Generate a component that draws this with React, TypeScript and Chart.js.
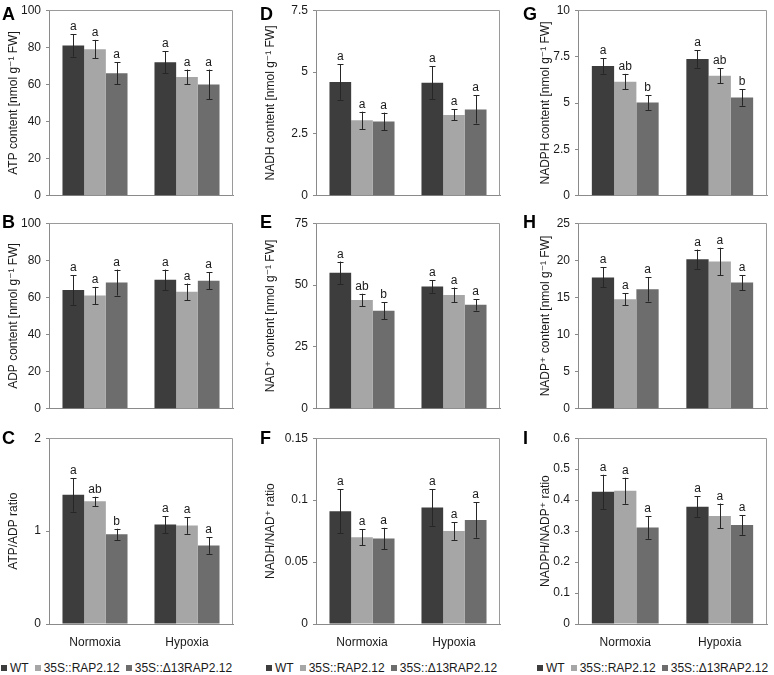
import React, { useEffect, useRef } from "react";
import { Chart, registerables } from "chart.js";

Chart.register(...registerables);

const FONT = "Arial, 'Liberation Sans', 'DejaVu Sans', sans-serif";
Chart.defaults.font.family = FONT;

// ---------- DATA ----------
const categories = ["Normoxia", "Hypoxia"];
const seriesNames = ["WT", "35S::RAP2.12", "35S::Δ13RAP2.12"];

// values per series: [Normoxia, Hypoxia]
const atpMeans = [[81, 72], [79, 64], [66, 60]];
const atpErrors = [[6, 6], [5, 4], [6, 8]];
const atpLetters = [["a", "a"], ["a", "a"], ["a", "a"]];

const adpMeans = [[64, 69.5], [61, 63], [68, 69]];
const adpErrors = [[8, 5.5], [4.7, 4.5], [7, 4.5]];
const adpLetters = [["a", "a"], ["a", "a"], ["a", "a"]];

const atpAdpMeans = [[1.39, 1.07], [1.32, 1.06], [0.965, 0.845]];
const atpAdpErrors = [[0.18, 0.09], [0.05, 0.09], [0.06, 0.09]];
const atpAdpLetters = [["a", "a"], ["ab", "a"], ["b", "a"]];

const nadhMeans = [[4.6, 4.57], [3.05, 3.27], [3.0, 3.49]];
const nadhErrors = [[0.72, 0.67], [0.35, 0.22], [0.36, 0.57]];
const nadhLetters = [["a", "a"], ["a", "a"], ["a", "a"]];

const nadMeans = [[55, 49.4], [44, 46], [39.6, 42]];
const nadErrors = [[4.5, 2.5], [2.5, 3], [3.4, 2.3]];
const nadLetters = [["a", "a"], ["ab", "a"], ["b", "a"]];

const nadhNadMeans = [[0.091, 0.094], [0.07, 0.075], [0.069, 0.084]];
const nadhNadErrors = [[0.0177, 0.0147], [0.0063, 0.0071], [0.0086, 0.0143]];
const nadhNadLetters = [["a", "a"], ["a", "a"], ["a", "a"]];

const nadphMeans = [[7.0, 7.37], [6.15, 6.47], [5.03, 5.3]];
const nadphErrors = [[0.42, 0.47], [0.42, 0.4], [0.4, 0.45]];
const nadphLetters = [["a", "a"], ["ab", "ab"], ["b", "b"]];

const nadpMeans = [[17.7, 20.15], [14.75, 19.85], [16.1, 17.0]];
const nadpErrors = [[1.34, 1.3], [0.8, 1.85], [1.65, 1.0]];
const nadpLetters = [["a", "a"], ["a", "a"], ["a", "a"]];

const nadphNadpMeans = [[0.427, 0.379], [0.43, 0.349], [0.312, 0.32]];
const nadphNadpErrors = [[0.055, 0.033], [0.042, 0.04], [0.037, 0.032]];
const nadphNadpLetters = [["a", "a"], ["a", "a"], ["a", "a"]];

// axis ranges [max, step]
const atpAxis = [100, 20];
const adpAxis = [100, 20];
const atpAdpAxis = [2, 1];
const nadhAxis = [7.5, 2.5];
const nadAxis = [75, 25];
const nadhNadAxis = [0.15, 0.05];
const nadphAxis = [10, 2.5];
const nadpAxis = [25, 5];
const nadphNadpAxis = [0.6, 0.1];

// ---------- STYLE / LAYOUT ----------
const seriesColors = ["#3d3d3d", "#a6a6a6", "#6d6d6d"];
const colCanvasLeft = [2, 259, 534];
const colPlotLeft = [49, 316, 578];
const colPlotRight = [233, 500, 767];
const colLetterX = [2, 260, 523];
const colLegendX = [1, 266, 537];
const rowPlotTop = [7, 220, 435];
const rowPlotBottom = [199, 412, 624];
const rowLetterCapTop = [7, 215, 431];

type PanelDef = {
  letter: string;
  title: string;
  means: number[][];
  errors: number[][];
  letters: string[][];
  axis: number[];
  col: number;
  row: number;
};

const panels: PanelDef[] = [
  { letter: "A", title: "ATP content [nmol g⁻¹ FW]", means: atpMeans, errors: atpErrors, letters: atpLetters, axis: atpAxis, col: 0, row: 0 },
  { letter: "B", title: "ADP content [nmol g⁻¹ FW]", means: adpMeans, errors: adpErrors, letters: adpLetters, axis: adpAxis, col: 0, row: 1 },
  { letter: "C", title: "ATP/ADP ratio", means: atpAdpMeans, errors: atpAdpErrors, letters: atpAdpLetters, axis: atpAdpAxis, col: 0, row: 2 },
  { letter: "D", title: "NADH content [nmol g⁻¹ FW]", means: nadhMeans, errors: nadhErrors, letters: nadhLetters, axis: nadhAxis, col: 1, row: 0 },
  { letter: "E", title: "NAD⁺ content [nmol g⁻¹ FW]", means: nadMeans, errors: nadErrors, letters: nadLetters, axis: nadAxis, col: 1, row: 1 },
  { letter: "F", title: "NADH/NAD⁺ ratio", means: nadhNadMeans, errors: nadhNadErrors, letters: nadhNadLetters, axis: nadhNadAxis, col: 1, row: 2 },
  { letter: "G", title: "NADPH content [nmol g⁻¹ FW]", means: nadphMeans, errors: nadphErrors, letters: nadphLetters, axis: nadphAxis, col: 2, row: 0 },
  { letter: "H", title: "NADP⁺ content [nmol g⁻¹ FW]", means: nadpMeans, errors: nadpErrors, letters: nadpLetters, axis: nadpAxis, col: 2, row: 1 },
  { letter: "I", title: "NADPH/NADP⁺ ratio", means: nadphNadpMeans, errors: nadphNadpErrors, letters: nadphNadpLetters, axis: nadphNadpAxis, col: 2, row: 2 },
];

const PAD_TOP = 9;
const PAD_RIGHT = 6;

function Panel({ p }: { p: PanelDef }) {
  const ref = useRef<HTMLCanvasElement | null>(null);
  const isBottom = p.row === 2;
  const bottomH = isBottom ? 26 : 9;
  const left = colCanvasLeft[p.col];
  const top = rowPlotTop[p.row] - PAD_TOP;
  const width = colPlotRight[p.col] + PAD_RIGHT - left;
  const height = rowPlotBottom[p.row] + bottomH - top;
  const yAxisW = colPlotLeft[p.col] - left;

  useEffect(() => {
    if (!ref.current) return;
    const overlay = {
      id: "errbars" + p.letter,
      afterDatasetsDraw(chart: any) {
        const { ctx, chartArea } = chart;
        const y = chart.scales.y;
        ctx.save();
        // frame (top & right)
        ctx.strokeStyle = "#9a9a9a";
        ctx.lineWidth = 1;
        ctx.beginPath();
        ctx.moveTo(chartArea.left, Math.round(chartArea.top) + 0.5);
        ctx.lineTo(Math.round(chartArea.right) - 0.5, Math.round(chartArea.top) + 0.5);
        ctx.lineTo(Math.round(chartArea.right) - 0.5, chartArea.bottom);
        ctx.stroke();
        chart.data.datasets.forEach((_ds: any, i: number) => {
          const meta = chart.getDatasetMeta(i);
          meta.data.forEach((bar: any, j: number) => {
            const v = p.means[i][j];
            const e = p.errors[i][j];
            const yt = y.getPixelForValue(v + e);
            const yb = y.getPixelForValue(v - e);
            const x = Math.round(bar.x) + 0.5;
            ctx.strokeStyle = "#262626";
            ctx.lineWidth = 1;
            ctx.beginPath();
            ctx.moveTo(x, yt);
            ctx.lineTo(x, yb);
            ctx.moveTo(x - 3, Math.round(yt) + 0.5);
            ctx.lineTo(x + 3, Math.round(yt) + 0.5);
            ctx.moveTo(x - 3, Math.round(yb) + 0.5);
            ctx.lineTo(x + 3, Math.round(yb) + 0.5);
            ctx.stroke();
            ctx.fillStyle = "#1a1a1a";
            ctx.font = "12px " + FONT;
            ctx.textAlign = "center";
            ctx.textBaseline = "alphabetic";
            ctx.fillText(p.letters[i][j], bar.x, yt - 4);
          });
        });
        ctx.restore();
      },
    };

    const chart = new Chart(ref.current, {
      type: "bar",
      data: {
        labels: categories,
        datasets: seriesNames.map((name, i) => ({
          label: name,
          data: p.means[i],
          backgroundColor: seriesColors[i],
          borderWidth: 0,
          categoryPercentage: 0.707,
          barPercentage: 1,
        })),
      },
      options: {
        responsive: false,
        animation: false,
        events: [],
        layout: { padding: { top: PAD_TOP, right: PAD_RIGHT, left: 0, bottom: 0 } },
        plugins: {
          legend: { display: false },
          tooltip: { enabled: false },
        },
        scales: {
          x: {
            grid: { display: false },
            border: { display: true, color: "#8a8a8a", width: 1 },
            ticks: {
              display: isBottom,
              color: "#1a1a1a",
              font: { size: 12 },
              padding: 3,
              maxRotation: 0,
            },
            afterFit: (s: any) => {
              s.height = bottomH;
            },
          },
          y: {
            min: 0,
            max: p.axis[0],
            grid: { display: true, drawOnChartArea: false, drawTicks: true, tickLength: 3, color: "#8a8a8a" },
            border: { display: true, color: "#8a8a8a", width: 1 },
            ticks: {
              stepSize: p.axis[1],
              color: "#1a1a1a",
              font: { size: 12 },
              padding: 5,
              callback: (v: any) => String(Number(Number(v).toFixed(6))),
            },
            title: {
              display: true,
              text: p.title,
              color: "#1a1a1a",
              font: { size: 12 },
              padding: { top: 4, bottom: 0 },
            },
            afterFit: (s: any) => {
              s.width = yAxisW;
            },
          },
        },
      },
      plugins: [overlay],
    } as any);
    return () => chart.destroy();
  }, []);

  return (
    <>
      <div style={{ position: "absolute", left, top, width, height }}>
        <canvas ref={ref} width={width} height={height} style={{ width, height, display: "block" }} />
      </div>
      <div
        style={{
          position: "absolute",
          left: colLetterX[p.col],
          top: rowLetterCapTop[p.row] - 2.4,
          font: `bold 18px ${FONT}`,
          lineHeight: "18px",
          color: "#000",
        }}
      >
        {p.letter}
      </div>
    </>
  );
}

function Legend({ x }: { x: number }) {
  return (
    <div
      style={{
        position: "absolute",
        left: x,
        top: 661,
        display: "flex",
        alignItems: "center",
        whiteSpace: "nowrap",
        font: `12px ${FONT}`,
        lineHeight: "14px",
        color: "#1a1a1a",
      }}
    >
      {seriesNames.map((n, i) => (
        <span key={n} style={{ display: "flex", alignItems: "center", marginRight: 6 }}>
          <span style={{ display: "inline-block", width: 6, height: 6, background: seriesColors[i], marginRight: 3 }} />
          {n}
        </span>
      ))}
    </div>
  );
}

export default function App() {
  return (
    <div style={{ position: "absolute", left: 0, top: 0, width: 774, height: 675, background: "#fff", overflow: "hidden" }}>
      {panels.map((p) => (
        <Panel key={p.letter} p={p} />
      ))}
      {colLegendX.map((x, i) => (
        <Legend key={i} x={x} />
      ))}
    </div>
  );
}
